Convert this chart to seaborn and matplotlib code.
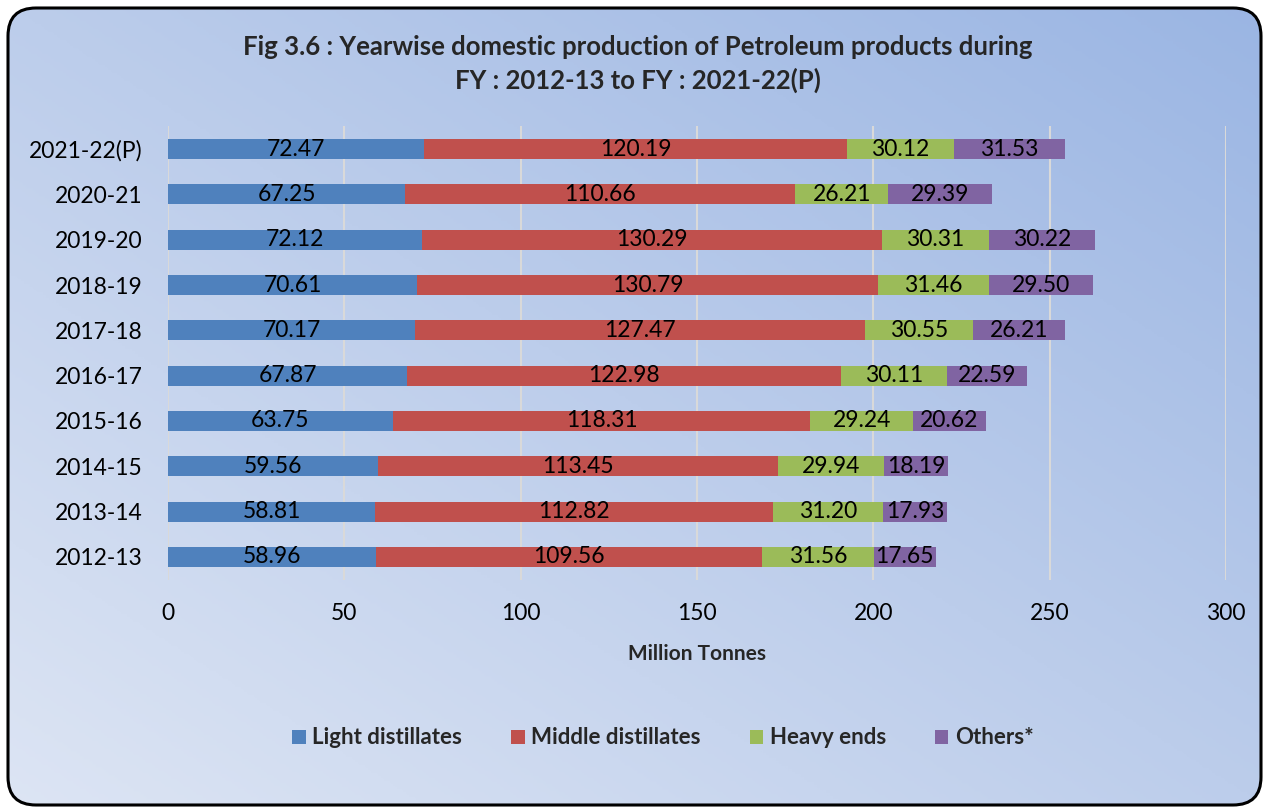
import numpy as np
import pandas as pd
import matplotlib
matplotlib.use("Agg")
import matplotlib.pyplot as plt
import seaborn as sns
from matplotlib.patches import FancyBboxPatch, Patch
from matplotlib.colors import LinearSegmentedColormap

# data (million tonnes), top row first
years = ["2021-22(P)", "2020-21", "2019-20", "2018-19", "2017-18",
         "2016-17", "2015-16", "2014-15", "2013-14", "2012-13"]
light = [72.47, 67.25, 72.12, 70.61, 70.17, 67.87, 63.75, 59.56, 58.81, 58.96]
middle = [120.19, 110.66, 130.29, 130.79, 127.47, 122.98, 118.31, 113.45, 112.82, 109.56]
heavy = [30.12, 26.21, 30.31, 31.46, 30.55, 30.11, 29.24, 29.94, 31.20, 31.56]
others = [31.53, 29.39, 30.22, 29.50, 26.21, 22.59, 20.62, 18.19, 17.93, 17.65]
series_names = ["Light distillates", "Middle distillates", "Heavy ends", "Others*"]
colors = ["#4f81bd", "#c0504d", "#9bbb59", "#8064a2"]

df = pd.DataFrame({"Year": years, series_names[0]: light, series_names[1]: middle,
                   series_names[2]: heavy, series_names[3]: others})
cum = df[series_names].cumsum(axis=1)

sns.set_theme(style="white")
plt.rcParams['font.family'] = ['Lato', 'DejaVu Sans']

W, H = 1269, 808
fig = plt.figure(figsize=(W / 100, H / 100), dpi=100)

# gradient background inside rounded frame
bg = fig.add_axes([0, 0, 1, 1], zorder=0)
bg.set_xlim(0, W)
bg.set_ylim(0, H)
bg.axis('off')
u, v = np.meshgrid(np.linspace(0, 1, 400), np.linspace(0, 1, 300))
grad = (u + v) / 2
cmap = LinearSegmentedColormap.from_list("bg", ["#dde5f4", "#bccdeb", "#9ab5e3"])
im = bg.imshow(grad, extent=[0, W, 0, H], origin='lower', cmap=cmap, aspect='auto')
frame = FancyBboxPatch((8, 3), W - 16, H - 11, boxstyle="round,pad=0,rounding_size=28",
                       facecolor='none', edgecolor='black', linewidth=2.2)
bg.add_patch(frame)
im.set_clip_path(frame)

ax = fig.add_axes([168 / W, 1 - 579.6 / H, 1058 / W, 453.2 / H], zorder=1)
ax.patch.set_alpha(0)

# stacked bars: draw cumulative totals from the outermost segment inwards
for i in reversed(range(len(series_names))):
    sns.barplot(x=cum[series_names[i]], y=df["Year"], orient='h', color=colors[i],
                saturation=1, width=0.44, linewidth=0, ax=ax)

for i, name in enumerate(series_names):
    for j, val in enumerate(df[name]):
        s = cum[series_names[i - 1]][j] if i > 0 else 0
        ax.text(s + val / 2, j, f"{val:.2f}", ha='center', va='center',
                fontsize=16.5, color='black', zorder=5)

ax.set_xlim(0, 300)
ax.set_ylim(9.5, -0.5)
ax.set_xticks(range(0, 301, 50))
ax.set_axisbelow(True)
ax.grid(axis='x', color='#d9d9d9', linewidth=1.5)
ax.grid(axis='y', visible=False)
for sp in ax.spines.values():
    sp.set_visible(False)
ax.tick_params(axis='both', length=0, labelsize=16.5, colors='black')
ax.tick_params(axis='x', pad=17)
ax.tick_params(axis='y', pad=18)
ax.set_xlabel("")
ax.set_ylabel("")

fig.text(697 / W, 1 - 654 / H, "Million Tonnes", ha='center', va='center',
         fontsize=15, fontweight='bold')
fig.text(638 / W, 1 - 47 / H, "Fig 3.6 : Yearwise domestic production of Petroleum products during",
         ha='center', va='center', fontsize=18.5, fontweight='bold')
fig.text(638 / W, 1 - 80 / H, "FY : 2012-13 to FY : 2021-22(P)",
         ha='center', va='center', fontsize=18.5, fontweight='bold')

handles = [Patch(facecolor=c, edgecolor='none') for c in colors]
fig.legend(handles, series_names, loc='center', bbox_to_anchor=(663 / W, 1 - 738 / H),
           ncol=4, frameon=False, handlelength=0.6, handleheight=0.6, handletextpad=0.3,
           columnspacing=2.2, prop={'size': 16, 'weight': 'bold'})

fig.savefig("out.png", dpi=100)
